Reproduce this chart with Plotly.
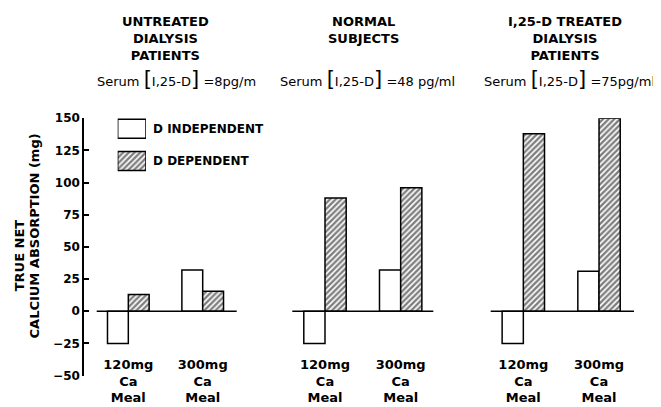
import plotly.graph_objects as go

# ---- data ----
meals = ["120mg<br>Ca<br>Meal", "300mg<br>Ca<br>Meal"]
series_names = ["D INDEPENDENT", "D DEPENDENT"]
groups = ["UNTREATED<br>DIALYSIS<br>PATIENTS", "NORMAL<br>SUBJECTS",
          "I,25-D TREATED<br>DIALYSIS<br>PATIENTS"]
serum_levels = ["8pg/m", "48 pg/ml", "75pg/ml"]
d_independent = [[-25, 32], [-25, 32], [-25, 31]]
d_dependent = [[13, 15.5], [88, 96], [138, 150]]
y_ticks = [-50, -25, 0, 25, 50, 75, 100, 125, 150]

# page body has an 8px margin; the figure fills the rest of the 661x407 window
OFF = 8
W, H = 661 - OFF, 407 - OFF
FONT = "DejaVu Sans"


def px(x):
    return (x - OFF) / W


def py(y):
    return 1 - (y - OFF) / H


# panel geometry (window pixels)
panel_dom = [(96.7, 236.7), (292.3, 433.3), (490.7, 634.0)]
panel_rng = [(-0.425, 1.457), (-0.432, 1.431), (-0.431, 1.462)]
panel_center = [165, 363, 565]
serum_center = [176, 367, 569]

fig = go.Figure()

plain = dict(color="white", line=dict(color="black", width=1.5),
             pattern=dict(shape=""))
hatched = dict(color="white", line=dict(color="black", width=1.5),
               pattern=dict(shape="/", fgcolor="black", bgcolor="white",
                            size=4, solidity=0.6))

for i in range(3):
    xa = "x" if i == 0 else f"x{i+1}"
    fig.add_trace(go.Bar(x=meals, y=d_independent[i], name=series_names[0],
                         marker=plain, xaxis=xa, yaxis="y", showlegend=False))
    fig.add_trace(go.Bar(x=meals, y=d_dependent[i], name=series_names[1],
                         marker=hatched, xaxis=xa, yaxis="y", showlegend=False))

# legend swatches drawn on a helper axis
fig.add_trace(go.Bar(
    x=[1, 1], y=series_names, orientation="h", width=0.59,
    xaxis="x4", yaxis="y4", showlegend=False,
    marker=dict(color="white", line=dict(color="black", width=1.5),
                pattern=dict(shape=["", "/"], fgcolor="black", bgcolor="white",
                             size=4, solidity=0.6))))

tickfont = dict(family=FONT, size=13, color="black", weight="bold")

layout = dict(
    width=W, height=H, autosize=False,
    margin=dict(l=0, r=0, t=0, b=0),
    paper_bgcolor="white", plot_bgcolor="white",
    barmode="group", bargap=0.44, bargroupgap=0,
    yaxis=dict(anchor="free", position=px(83), domain=[py(381.7), py(115)],
               range=[-50, 150], tickvals=y_ticks, ticks="inside", ticklen=5,
               tickwidth=1.5, tickcolor="black", showline=True, linewidth=1.5,
               linecolor="black", showgrid=False, zeroline=False,
               tickfont=dict(family=FONT, size=12, color="black", weight="bold")),
    xaxis4=dict(domain=[px(117.7), px(146)], anchor="y4", range=[0, 1],
                visible=False),
    yaxis4=dict(domain=[py(176), py(109.3)], anchor="x4", side="right",
                range=[1.5, -0.5], showline=False, ticks="", showgrid=False,
                zeroline=False, ticklabelstandoff=6,
                tickfont=dict(family=FONT, size=12, color="black",
                              weight="bold")),
)
for i in range(3):
    key = "xaxis" if i == 0 else f"xaxis{i+1}"
    layout[key] = dict(domain=[px(panel_dom[i][0]), px(panel_dom[i][1])],
                       anchor="free", position=py(360), type="category",
                       range=list(panel_rng[i]), showline=False, ticks="",
                       showgrid=False, zeroline=False, tickfont=tickfont)
fig.update_layout(**layout)

# zero baselines per panel
for i in range(3):
    xr = "x domain" if i == 0 else f"x{i+1} domain"
    fig.add_shape(type="line", xref=xr, yref="y", x0=0, x1=1, y0=0, y1=0,
                  line=dict(color="black", width=1.5))

# headers
for i in range(3):
    fig.add_annotation(text=groups[i], x=px(panel_center[i]), y=py(5),
                       xref="paper", yref="paper", xanchor="center",
                       yanchor="top", showarrow=False,
                       font=dict(family=FONT, size=13, color="black",
                                 weight="bold"))
    fig.add_annotation(
        text=("Serum <span style='font-size:21px'>[</span>I,25-D"
              "<span style='font-size:21px'>]</span> =" + serum_levels[i]),
        x=px(serum_center[i]), y=py(74), xref="paper", yref="paper",
        xanchor="center", yanchor="middle", showarrow=False,
        font=dict(family=FONT, size=13, color="black"))

# y-axis title (two lines)
fig.add_annotation(text="TRUE NET", x=px(19), y=py(257), xref="paper",
                   yref="paper", textangle=-90, showarrow=False,
                   xanchor="center", yanchor="middle",
                   font=dict(family=FONT, size=13, color="black", weight="bold"))
fig.add_annotation(text="CALCIUM ABSORPTION (mg)", x=px(34.5), y=py(237),
                   xref="paper", yref="paper", textangle=-90, showarrow=False,
                   xanchor="center", yanchor="middle",
                   font=dict(family=FONT, size=13, color="black", weight="bold"))

fig.write_html("out.html")
